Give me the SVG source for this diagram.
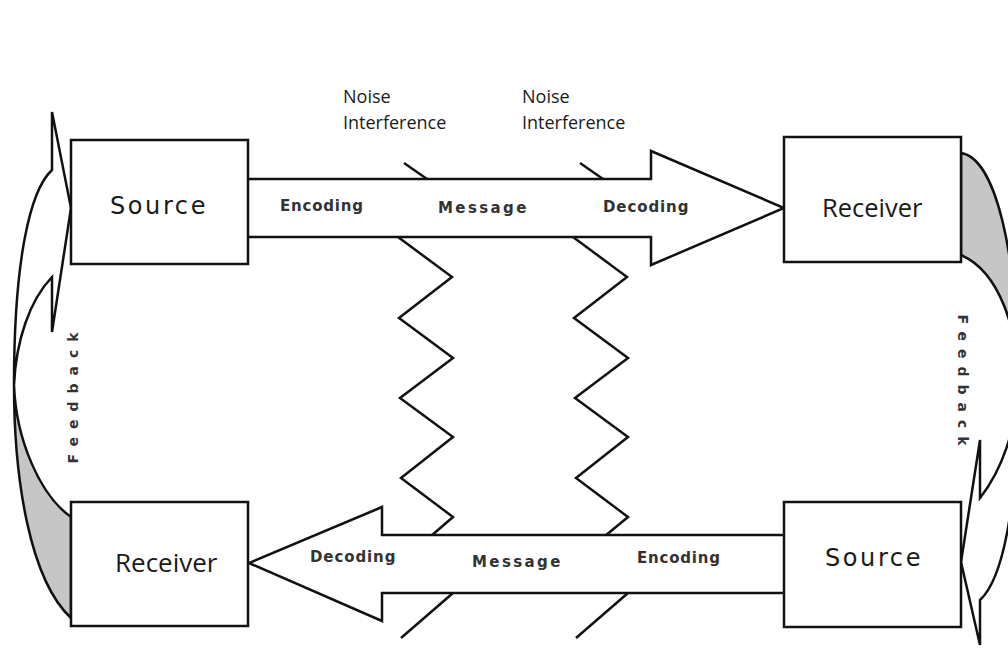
<svg xmlns="http://www.w3.org/2000/svg" width="1008" height="655" viewBox="0 0 1008 655">
  <style>
    .box { fill: #ffffff; stroke: #111111; stroke-width: 2.5; }
    .band { fill: #ffffff; stroke: #111111; stroke-width: 2.5; stroke-linejoin: miter; }
    .back { fill: #c6c6c6; stroke: #111111; stroke-width: 2.5; }
    .zig { fill: none; stroke: #111111; stroke-width: 2.5; stroke-linejoin: miter; }
    .lbl-wide { font-family: "DejaVu Sans", Verdana, sans-serif; font-size: 24px; fill: #1a1a1a; letter-spacing: 2.6px; }
    .lbl-narrow { font-family: "Open Sans", "Liberation Sans", sans-serif; font-size: 25.5px; fill: #1a1a1a; }
    .noise { font-family: "Open Sans", "Liberation Sans", sans-serif; font-size: 18px; fill: #1a1a1a; }
    .flow { font-family: "DejaVu Sans", Verdana, sans-serif; font-weight: bold; font-size: 15px; fill: #333333; }
    .fb { font-family: "DejaVu Sans", Verdana, sans-serif; font-weight: bold; font-size: 14px; fill: #333333; letter-spacing: 8px; }
  </style>

  <rect width="1008" height="655" fill="#ffffff"/>

  <!-- noise lines crossing the message channels -->
  <g id="noise-lines">
    <polyline class="zig" points="404,163 427,179"/>
    <polyline class="zig" points="398,237 452,277 399,318 453,358 400,398 453,437 401,478 453,517 431,536"/>
    <polyline class="zig" points="453,593 401,638"/>
    <polyline class="zig" points="580,163 603,179"/>
    <polyline class="zig" points="573,237 627,277 574,318 628,358 575,398 628,437 576,478 628,517 605,536"/>
    <polyline class="zig" points="628,593 576,638"/>
  </g>

  <!-- connectors: message arrows and curved feedback arrows -->
  <g id="connectors">
    <path id="message-forward" class="band" d="M248,179 L651,179 L651,151 L784,208 L651,265 L651,237 L248,237"/>
    <path id="message-return" class="band" d="M784,535 L382,535 L382,507 L249,563 L382,621 L382,593 L784,593"/>

    <g id="feedback-left">
      <path class="back" d="M14,385 C16,440 40,495 71,517 L71,618 C30,580 14,480 14,385 Z"/>
      <path class="band" d="M52,170 L52,112 L71,208 L52,332 L52,277 C30,300 16,340 14,385 C14,260 30,190 52,170 Z"/>
    </g>

    <g id="feedback-right">
      <path class="back" d="M1018,385 C1018,330 1000,272 961,255 L961,153 C995,158 1018,250 1018,385 Z"/>
      <path class="band" d="M980,600 L980,645 L961,562 L980,440 L980,498 C1002,470 1016,430 1018,385 C1018,510 1002,580 980,600 Z"/>
    </g>
  </g>

  <!-- channel labels -->
  <g id="labels">
    <text class="noise" x="343" y="103">Noise</text>
    <text class="noise" x="343" y="129">Interference</text>
    <text class="noise" x="522" y="103">Noise</text>
    <text class="noise" x="522" y="129">Interference</text>

    <text class="flow" x="280" y="211" letter-spacing="0.8">Encoding</text>
    <text class="flow" x="438" y="213" letter-spacing="2.4">Message</text>
    <text class="flow" x="603" y="212" letter-spacing="0.9">Decoding</text>

    <text class="flow" x="310" y="562" letter-spacing="0.9">Decoding</text>
    <text class="flow" x="472" y="567" letter-spacing="2.4">Message</text>
    <text class="flow" x="637" y="563" letter-spacing="0.8">Encoding</text>

    <text class="fb" transform="translate(78,394) rotate(-90)" text-anchor="middle">Feedback</text>
    <text class="fb" transform="translate(958,384) rotate(90)" text-anchor="middle">Feedback</text>
  </g>

  <g id="source-top">
    <rect class="box" x="71" y="140" width="177" height="124"/>
    <text class="lbl-wide" x="110" y="214">Source</text>
  </g>

  <g id="receiver-top">
    <rect class="box" x="784" y="137" width="177" height="125"/>
    <text class="lbl-narrow" x="822" y="217">Receiver</text>
  </g>

  <g id="receiver-bottom">
    <rect class="box" x="71" y="502" width="177" height="124"/>
    <text class="lbl-narrow" x="115" y="572" style="font-size:26px">Receiver</text>
  </g>

  <g id="source-bottom">
    <rect class="box" x="784" y="502" width="177" height="125"/>
    <text class="lbl-wide" x="825" y="566">Source</text>
  </g>
</svg>
